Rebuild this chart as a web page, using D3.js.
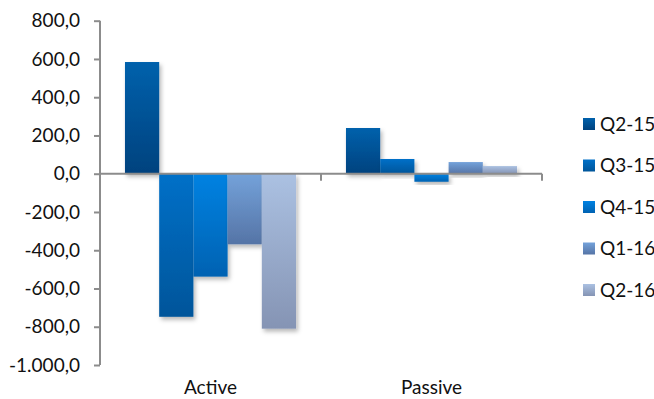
<!DOCTYPE html>
<html><head><meta charset="utf-8">
<script src="https://cdn.jsdelivr.net/npm/d3@7"></script>
<style>
html,body{margin:0;padding:0;background:#fff;}
text{font-family:"Lato","Open Sans",sans-serif;fill:#111;}
</style></head>
<body><svg id="c" width="654" height="399"></svg>
<script>
const categories = ["Active", "Passive"];
const seriesNames = ["Q2-15", "Q3-15", "Q4-15", "Q1-16", "Q2-16"];
const activeValues = [584, -748, -538, -369, -810];
const passiveValues = [239, 77, -42, 61, 40];
const yTicks = [800, 600, 400, 200, 0, -200, -400, -600, -800, -1000];
const colorTop = ["#0061ac", "#0070c8", "#0082e2", "#74a2da", "#abc1e2"];
const colorBottom = ["#00427e", "#00559a", "#0062b2", "#5574a6", "#8594b4"];

const values = [activeValues, passiveValues];
const svg = d3.select("#c");
const defs = svg.append("defs");
seriesNames.forEach((s, i) => {
  const g = defs.append("linearGradient").attr("id", "g" + i)
    .attr("x1", 0).attr("y1", 0).attr("x2", 0).attr("y2", 1);
  g.append("stop").attr("offset", "0%").attr("stop-color", colorTop[i]);
  g.append("stop").attr("offset", "100%").attr("stop-color", colorBottom[i]);
});
const f = defs.append("filter").attr("id", "sh").attr("x", "-20%").attr("y", "-20%").attr("width", "150%").attr("height", "150%");
f.append("feDropShadow").attr("dx", 2).attr("dy", 3).attr("stdDeviation", 2.2)
  .attr("flood-color", "#000").attr("flood-opacity", 0.28);

const y = d3.scaleLinear().domain([-1000, 800]).range([365, 20.7]);
const x0 = d3.scaleBand().domain(categories).range([100, 542]).padding(0);
const bw = x0.bandwidth();
const x1 = d3.scaleBand().domain(seriesNames).range([bw * 0.113, bw * 0.887]).padding(0);

const fmt = v => {
  const s = d3.format(",.1f")(v);
  return s.replace(/,/g, "#").replace(".", ",").replace(/#/g, ".").replace("−", "-");
};

// bars
const groups = svg.append("g").selectAll("g").data(categories).join("g")
  .attr("transform", c => `translate(${x0(c)},0)`);
groups.each(function(c, ci) {
  d3.select(this).selectAll("rect").data(seriesNames.map((s, i) => ({s, i, v: values[ci][i]})))
    .join("rect")
    .attr("x", d => x1(d.s))
    .attr("width", x1.bandwidth())
    .attr("y", d => Math.min(y(d.v), y(0)))
    .attr("height", d => Math.abs(y(d.v) - y(0)))
    .attr("fill", d => `url(#g${d.i})`)
    .attr("filter", "url(#sh)");
});

// y axis
const ya = svg.append("g").attr("transform", "translate(100,0)")
  .call(d3.axisLeft(y).tickValues(yTicks).tickFormat(fmt).tickSize(6).tickPadding(14));
ya.select(".domain").attr("stroke", "#8c8c8c").attr("stroke-width", 2).attr("d", `M0,${y(800)}V${y(-1000)}`);
ya.selectAll(".tick line").attr("stroke", "#8c8c8c").attr("stroke-width", 2);
ya.selectAll(".tick text").style("font-size", "19px").attr("fill", "#111");

// x axis at zero
const xa = svg.append("g").attr("transform", `translate(0,${y(0)})`);
xa.append("line").attr("x1", 100).attr("x2", 542).attr("y1", 0).attr("y2", 0)
  .attr("stroke", "#8c8c8c").attr("stroke-width", 2);
xa.selectAll("line.t").data(categories).join("line").attr("class", "t")
  .attr("x1", c => x0(c) + bw).attr("x2", c => x0(c) + bw).attr("y1", 0).attr("y2", 7)
  .attr("stroke", "#8c8c8c").attr("stroke-width", 2);

// category labels
svg.append("g").selectAll("text").data(categories).join("text")
  .attr("x", c => x0(c) + bw / 2).attr("y", 394)
  .attr("text-anchor", "middle").style("font-size", "19px").text(c => c);

// legend
const ly = d3.scalePoint().domain(seriesNames).range([124, 290]);
const lg = svg.append("g").selectAll("g").data(seriesNames).join("g")
  .attr("transform", s => `translate(583,${ly(s)})`);
lg.append("rect").attr("x", 0).attr("y", -6).attr("width", 12).attr("height", 12)
  .attr("fill", (s, i) => `url(#g${i})`);
lg.append("text").attr("x", 17).attr("y", 0).attr("dy", "0.35em")
  .style("font-size", "19px").text(s => s);
</script></body></html>
